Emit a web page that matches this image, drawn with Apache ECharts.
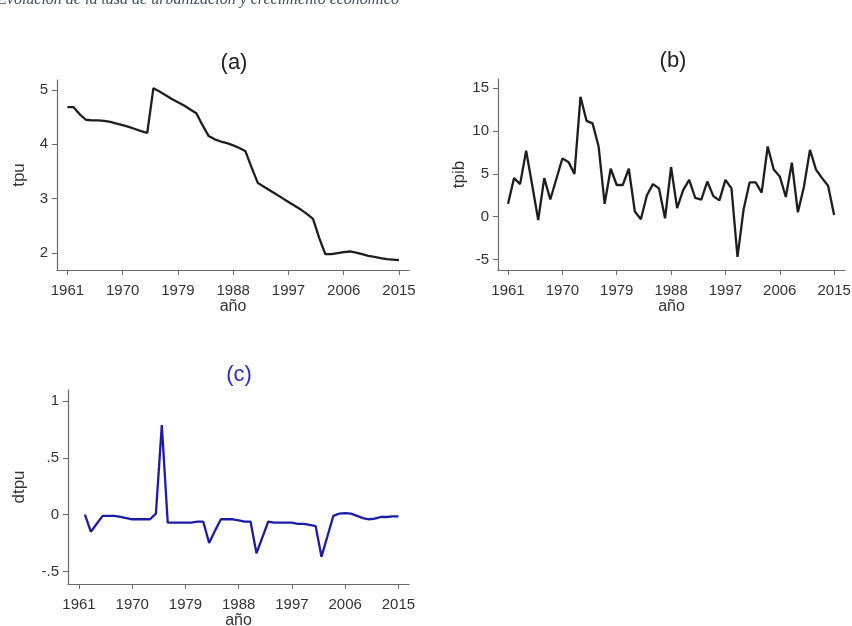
<!DOCTYPE html>
<html><head><meta charset="utf-8">
<script src="https://cdn.jsdelivr.net/npm/echarts@6/dist/echarts.min.js"></script>
<style>html,body{margin:0;padding:0;background:#fff}#c{width:852px;height:626px}</style>
</head><body><div id="c"></div>
<script>
const years = [];
for (let y = 1961; y <= 2015; y++) years.push(y);
const yearsDiff = years.slice(1);
const xTickYears = [1961, 1970, 1979, 1988, 1997, 2006, 2015];

const tpu = [4.68,4.68,4.55,4.45,4.44,4.44,4.43,4.41,4.38,4.35,4.32,4.28,4.24,4.21,5.03,4.97,4.90,4.83,4.77,4.71,4.64,4.57,4.35,4.15,4.09,4.05,4.02,3.98,3.93,3.87,3.57,3.29,3.22,3.15,3.08,3.01,2.94,2.87,2.80,2.72,2.63,2.28,1.98,1.98,2.00,2.02,2.03,2.01,1.98,1.95,1.93,1.91,1.89,1.88,1.87];
const tpib = [1.5,4.5,3.8,7.7,3.7,-0.4,4.5,2.0,4.4,6.8,6.4,5.0,14.0,11.2,10.9,8.2,1.5,5.6,3.7,3.7,5.6,0.6,-0.3,2.5,3.8,3.3,-0.2,5.8,1.0,3.1,4.3,2.2,2.0,4.1,2.4,1.9,4.3,3.3,-4.7,0.8,4.0,4.0,2.8,8.2,5.5,4.7,2.3,6.3,0.5,3.5,7.8,5.5,4.5,3.6,0.2];
const dtpu = [0.00,-0.15,-0.08,-0.01,-0.01,-0.01,-0.02,-0.03,-0.04,-0.04,-0.04,-0.04,0.01,0.79,-0.07,-0.07,-0.07,-0.07,-0.07,-0.06,-0.06,-0.25,-0.14,-0.04,-0.04,-0.04,-0.05,-0.06,-0.06,-0.34,-0.20,-0.06,-0.07,-0.07,-0.07,-0.07,-0.08,-0.08,-0.09,-0.10,-0.37,-0.19,-0.01,0.01,0.015,0.01,-0.01,-0.03,-0.04,-0.035,-0.02,-0.02,-0.015,-0.015];

const tpuTicks = [2, 3, 4, 5];
const tpibTicks = [-5, 0, 5, 10, 15];
const dtpuTicks = [-0.5, 0, 0.5, 1];
const dtpuTickLabels = ['-.5', '0', '.5', '1'];

const pageTitle = 'Evolución de la tasa de urbanización y crecimiento económico';
const panelTitles = ['(a)', '(b)', '(c)'];
const yNames = ['tpu', 'tpib', 'dtpu'];
const xName = 'año';

const FONT = '"Liberation Sans", Arial, sans-serif';
const axisCol = '#6a6a6a';
const txtCol = '#333';

function xAxis(gi, min, max) {
  return {
    type: 'value', gridIndex: gi, min: min, max: max,
    name: xName, nameLocation: 'middle', nameGap: 29,
    nameTextStyle: { fontFamily: FONT, fontSize: 16, color: txtCol },
    axisLine: { show: true, onZero: false, lineStyle: { color: axisCol, width: 1.2 } },
    axisTick: { show: true, length: 5, inside: false, customValues: xTickYears, lineStyle: { color: axisCol } },
    axisLabel: { customValues: xTickYears, margin: 13, fontFamily: FONT, fontSize: 15, color: txtCol, formatter: v => String(v) },
    splitLine: { show: false }
  };
}
function yAxis(gi, min, max, ticks, name, gap, fmt) {
  return {
    type: 'value', gridIndex: gi, min: min, max: max,
    name: name, nameLocation: 'middle', nameGap: gap, nameRotate: 90,
    nameTextStyle: { fontFamily: FONT, fontSize: 17, color: txtCol },
    axisLine: { show: true, onZero: false, lineStyle: { color: axisCol, width: 1.2 } },
    axisTick: { show: true, length: 5, customValues: ticks, lineStyle: { color: axisCol } },
    axisLabel: { customValues: ticks, margin: 9, fontFamily: FONT, fontSize: 15, color: txtCol, formatter: fmt },
    splitLine: { show: false }
  };
}

const chart = echarts.init(document.getElementById('c'), null, { renderer: 'canvas' });
chart.setOption({
  backgroundColor: '#fff',
  animation: false,
  title: [
    { text: panelTitles[0], left: 229, top: 47, textAlign: 'center', textStyle: { fontFamily: FONT, fontSize: 22, fontWeight: 'normal', color: '#222' } },
    { text: panelTitles[1], left: 668, top: 45, textAlign: 'center', textStyle: { fontFamily: FONT, fontSize: 22, fontWeight: 'normal', color: '#222' } },
    { text: panelTitles[2], left: 234, top: 359, textAlign: 'center', textStyle: { fontFamily: FONT, fontSize: 22, fontWeight: 'normal', color: '#2a2acc' } }
  ],
  graphic: [{
    type: 'text', left: -3, top: -8,
    style: { text: pageTitle, fontFamily: '"Liberation Serif", "Times New Roman", serif', fontStyle: 'italic', fontSize: 16, fill: '#3d4f63' }
  }],
  grid: [
    { left: 57, top: 80, width: 352, height: 190, outerBoundsMode: 'none' },
    { left: 498, top: 79, width: 347, height: 191, outerBoundsMode: 'none' },
    { left: 68, top: 390, width: 341, height: 194, outerBoundsMode: 'none' }
  ],
  xAxis: [ xAxis(0, 1959.3, 2016.63), xAxis(1, 1959.34, 2016.8), xAxis(2, 1959.14, 2016.79) ],
  yAxis: [
    yAxis(0, 1.69, 5.18, tpuTicks, yNames[0], 29, v => String(v)),
    yAxis(1, -6.24, 16.09, tpibTicks, yNames[1], 30, v => String(v)),
    yAxis(2, -0.611, 1.10, dtpuTicks, yNames[2], 40, v => dtpuTickLabels[dtpuTicks.indexOf(v)] ?? String(v))
  ],
  series: [
    { type: 'line', xAxisIndex: 0, yAxisIndex: 0, data: years.map((y, i) => [y, tpu[i]]), showSymbol: false, lineStyle: { color: '#1e1e1e', width: 2.3 } },
    { type: 'line', xAxisIndex: 1, yAxisIndex: 1, data: years.map((y, i) => [y, tpib[i]]), showSymbol: false, lineStyle: { color: '#1e1e1e', width: 2.3 } },
    { type: 'line', xAxisIndex: 2, yAxisIndex: 2, data: yearsDiff.map((y, i) => [y, dtpu[i]]), showSymbol: false, lineStyle: { color: '#1c1ca8', width: 2.3 } }
  ]
});
</script></body></html>
